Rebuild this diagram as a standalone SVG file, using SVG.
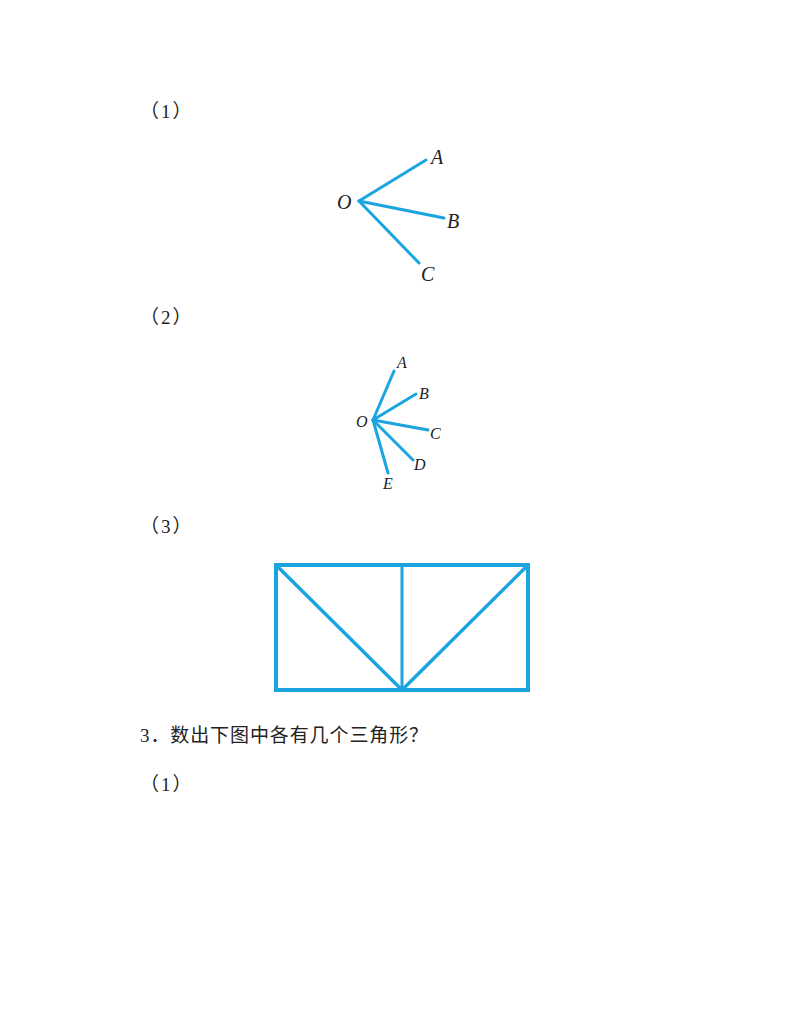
<svg xmlns="http://www.w3.org/2000/svg" width="800" height="1035" viewBox="0 0 800 1035">
<style>
.t{font-family:"Liberation Serif","Noto Sans CJK SC",serif;font-size:19px;fill:#222}
.p{letter-spacing:2px}
.h{letter-spacing:0.9px}
.l{font-family:"Liberation Serif",serif;font-style:italic;fill:#222}
.ray{stroke:#1ca4e0;stroke-width:3;stroke-linecap:round;fill:none}
.sq{stroke:#1ca4e0;fill:none}
</style>
<rect width="800" height="1035" fill="#fff"/>
<text class="t p" x="140" y="118">（1）</text>
<text class="t p" x="140" y="324">（2）</text>
<text class="t p" x="140" y="533">（3）</text>
<text class="t h" x="140" y="742">3．数出下图中各有几个三角形？</text>
<text class="t p" x="140" y="791">（1）</text>
<g id="fig1">
<g class="connectors">
<line class="ray" x1="359" y1="201" x2="426" y2="160"/>
<line class="ray" x1="359" y1="201" x2="444" y2="218"/>
<line class="ray" x1="359" y1="201" x2="419" y2="263"/>
</g>
<text class="l" font-size="20" x="337" y="209">O</text>
<text class="l" font-size="20" x="431" y="164">A</text>
<text class="l" font-size="20" x="447" y="228">B</text>
<text class="l" font-size="20" x="421" y="281">C</text>
</g>
<g id="fig2">
<g class="connectors">
<line class="ray" stroke-width="2.5" x1="373" y1="420" x2="394" y2="371"/>
<line class="ray" stroke-width="2.5" x1="373" y1="420" x2="416" y2="394"/>
<line class="ray" stroke-width="2.5" x1="373" y1="420" x2="428" y2="430"/>
<line class="ray" stroke-width="2.5" x1="373" y1="420" x2="413" y2="460"/>
<line class="ray" stroke-width="2.5" x1="373" y1="420" x2="388" y2="473"/>
</g>
<text class="l" font-size="16" x="356" y="427">O</text>
<text class="l" font-size="16" x="397" y="368">A</text>
<text class="l" font-size="16" x="419" y="399">B</text>
<text class="l" font-size="16" x="430" y="439">C</text>
<text class="l" font-size="16" x="414" y="470">D</text>
<text class="l" font-size="16" x="383" y="489">E</text>
</g>
<g id="fig3">
<rect class="sq" stroke-width="4" x="276" y="565" width="252" height="125"/>
<g class="connectors">
<line class="sq" stroke-width="3.5" x1="276" y1="565" x2="402" y2="690"/>
<line class="sq" stroke-width="3.5" x1="528" y1="565" x2="402" y2="690"/>
<line class="sq" stroke-width="3" x1="402" y1="565" x2="402" y2="690"/>
</g>
</g>
</svg>
